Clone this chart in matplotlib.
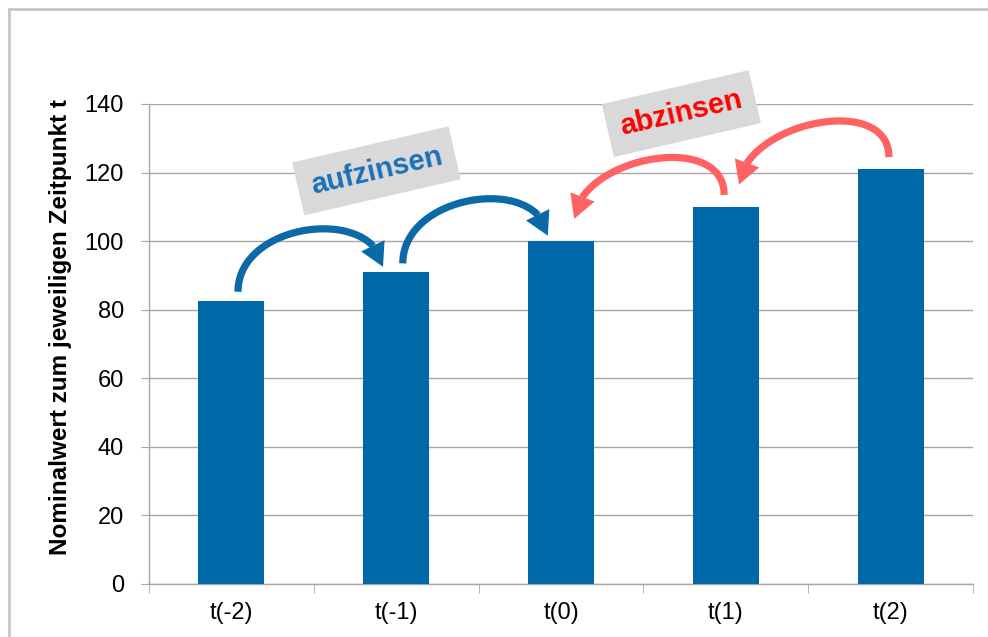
import numpy as np
import matplotlib
matplotlib.use("Agg")
import matplotlib.pyplot as plt
from matplotlib.patches import Polygon
from matplotlib.lines import Line2D
from matplotlib.transforms import IdentityTransform

plt.rcParams['font.family'] = ['Liberation Sans', 'DejaVu Sans']

# Daten
zeitpunkte = ['t(-2)', 't(-1)', 't(0)', 't(1)', 't(2)']
nominalwert = [82.64, 90.91, 100.0, 110.0, 121.0]
y_ticks = [0, 20, 40, 60, 80, 100, 120, 140]

bar_farbe = '#0068A6'
pfeil_blau = '#0A69A6'
pfeil_rot = '#FF6262'
grau = '#A6A6A6'


def bogen(ax, p0, p1, h1, L, winkel, farbe, kopf_l=23, kopf_b=13):
    """Gebogener Pfeil (kubische Bezierkurve + Spitze), Geometrie in Pixeln"""
    P0 = ax.transData.transform(p0)
    P3 = ax.transData.transform(p1)
    s = 1 if P3[0] > P0[0] else -1
    w = np.radians(winkel)
    C1 = P0 + np.array([0, h1])
    C2 = P3 + np.array([-s * L * np.cos(w), L * np.sin(w)])
    t = np.linspace(0, 1, 400)[:, None]
    pts = ((1 - t) ** 3 * P0 + 3 * (1 - t) ** 2 * t * C1
           + 3 * (1 - t) * t ** 2 * C2 + t ** 3 * P3)
    d = np.hypot(*(pts - P3).T)
    k = np.where(d >= kopf_l)[0][-1]
    basis = pts[k]
    r = (P3 - basis) / np.hypot(*(P3 - basis))
    n = np.array([-r[1], r[0]])
    ax.add_line(Line2D(pts[:k + 2, 0], pts[:k + 2, 1], color=farbe, lw=5.2,
                       solid_capstyle='butt', transform=IdentityTransform(), zorder=5))
    ax.add_patch(Polygon([P3, basis + n * kopf_b, basis - n * kopf_b], closed=True,
                         color=farbe, lw=0, transform=IdentityTransform(), zorder=5))


fig = plt.figure(figsize=(9.88, 6.37), dpi=100)
ax = fig.add_axes([149 / 988, 1 - 584 / 637, 824 / 988, 480 / 637])

x = np.arange(len(zeitpunkte))
ax.bar(x, nominalwert, width=0.4, color=bar_farbe, zorder=3)

ax.set_xlim(-0.5, len(zeitpunkte) - 0.5)
ax.set_ylim(0, 140)
ax.set_yticks(y_ticks)
ax.yaxis.grid(True, color=grau, lw=1, zorder=0)
ax.set_axisbelow(True)

ax.set_xticks(x)
ax.set_xticklabels(zeitpunkte)
ax.set_xticks(np.arange(len(zeitpunkte) + 1) - 0.5, minor=True)
ax.tick_params(axis='x', which='major', length=0, pad=13, labelsize=17)
ax.tick_params(axis='x', which='minor', length=6.5, color=grau, direction='out')
ax.tick_params(axis='y', length=6, color=grau, pad=12, labelsize=17)

for s in ['top', 'right']:
    ax.spines[s].set_visible(False)
for s in ['left', 'bottom']:
    ax.spines[s].set_color(grau)
    ax.spines[s].set_linewidth(1)

ax.set_ylabel('Nominalwert zum jeweiligen Zeitpunkt t', fontsize=17.5, fontweight='bold')
ax.yaxis.set_label_coords(-0.094, 0.535)

# Pfeile aufzinsen (blau) und abzinsen (rot)
for i in range(2):
    bogen(ax, (i + 0.04, nominalwert[i] + 2.6), (i + 0.92, nominalwert[i + 1] + 1.6),
          70, 62, 82, pfeil_blau)
for i in range(2, 4):
    bogen(ax, (i + 0.99, nominalwert[i + 1] + 3.5), (i + 0.08, nominalwert[i] + 6.5),
          65, 62, 85, pfeil_rot)

box = dict(boxstyle='square,pad=0.45', fc='#D9D9D9', ec='none')
ax.text(0.88, 120.5, 'aufzinsen', color='#1A70BA', fontsize=21, fontweight='bold',
        rotation=13, rotation_mode='anchor', ha='center', va='center', bbox=box, zorder=6)
ax.text(2.73, 137.2, 'abzinsen', color='#FF0000', fontsize=21, fontweight='bold',
        rotation=13, rotation_mode='anchor', ha='center', va='center', bbox=box, zorder=6,
        clip_on=False)

# Rahmen
fig.add_artist(Line2D([9 / 988, 9 / 988], [0, 1 - 9 / 637], color='#C8C8C8', lw=2))
fig.add_artist(Line2D([9 / 988, 1], [1 - 9 / 637, 1 - 9 / 637], color='#C8C8C8', lw=2))

fig.savefig('out.png', dpi=100)
